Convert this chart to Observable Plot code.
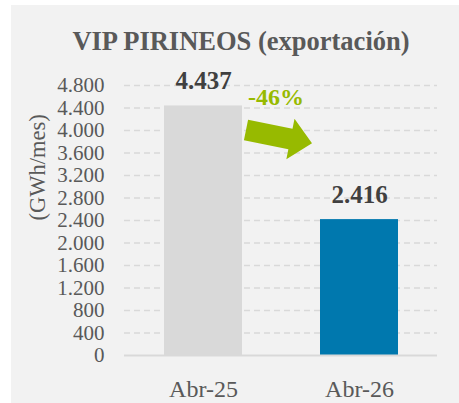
<!DOCTYPE html>
<html>
<head>
<meta charset="utf-8">
<script src="https://cdn.jsdelivr.net/npm/d3@7"></script>
<script src="https://cdn.jsdelivr.net/npm/@observablehq/plot@0.6"></script>
<style>
  html, body { margin: 0; padding: 0; background: #ffffff; }
  #frame { position: absolute; left: 11px; top: 5px; width: 448px; height: 398px; background: #f2f2f2; font-family: "Liberation Serif", serif; overflow: hidden; }
  #title { position: absolute; left: 12px; width: 436px; top: 21px; line-height: 30px; text-align: center; font-weight: bold; font-size: 26.5px; color: #595959; white-space: nowrap; }
  #chart { position: absolute; left: 0; top: 58px; }
</style>
</head>
<body>
<div id="frame">
  <div id="title"></div>
  <div id="chart"></div>
</div>
<script>
const title = "VIP PIRINEOS (exportación)";
const yLabel = "(GWh/mes)";
const categories = ["Abr-25", "Abr-26"];
const values = [4437, 2416];
const barColors = ["#d9d9d9", "#0078ae"];
const yTicks = [0, 400, 800, 1200, 1600, 2000, 2400, 2800, 3200, 3600, 4000, 4400, 4800];
const arrowStartValue = 4000;
const arrowEndValue = 3764;

const locale = d3.formatLocale({decimal: ",", thousands: ".", grouping: [3], currency: ["", " €"]});
const fmt = locale.format(",d");

const data = categories.map((c, i) => ({period: c, value: values[i], color: barColors[i]}));
const change = Math.round((values[1] / values[0] - 1) * 100);
const changeLabel = (change > 0 ? "+" : "") + change + "%";
const paddingInner = 0.5;

document.getElementById("title").textContent = title;

const green = "#97ba00";

function changeArrow(index, scales) {
  const x = scales.x, y = scales.y;
  const x0 = +x(categories[0]), x1 = +x(categories[1]);
  const step = x1 - x0;
  let bw = typeof x.bandwidth === "function" ? x.bandwidth() : x.bandwidth;
  if (!(bw > 0)) bw = step * (1 - paddingInner);
  const gapLeft = x0 + bw, gapRight = x1;
  const g = d3.create("svg:g");
  g.append("text")
    .attr("x", (gapLeft + gapRight) / 2 - 5)
    .attr("y", y(values[0]))
    .attr("text-anchor", "middle")
    .attr("font-family", "Liberation Serif")
    .attr("font-weight", "bold")
    .attr("font-size", 24)
    .attr("fill", green)
    .text(changeLabel);
  const S = [gapLeft + 4, y(arrowStartValue)];
  const T = [gapRight - 8, y(arrowEndValue)];
  const dx = T[0] - S[0], dy = T[1] - S[1];
  const len = Math.hypot(dx, dy);
  const u = [dx / len, dy / len];
  const n = [-u[1], u[0]];
  const sw = 10.5, hw = 20.7, hl = 22;
  const B = [T[0] - u[0] * hl, T[1] - u[1] * hl];
  const p = (P, k) => [P[0] + n[0] * k, P[1] + n[1] * k];
  const pts = [p(S, -sw), p(B, -sw), p(B, -hw), T, p(B, hw), p(B, sw), p(S, sw)];
  g.append("polygon")
    .attr("points", pts.map(q => q.join(",")).join(" "))
    .attr("fill", green);
  return g.node();
}

const chart = Plot.plot({
  width: 448,
  height: 340,
  marginTop: 22,
  marginBottom: 48,
  marginLeft: 113,
  marginRight: 22,
  style: {background: "transparent", fontFamily: "Liberation Serif", color: "#595959"},
  x: {domain: categories, paddingInner: paddingInner, paddingOuter: 0.25, label: null},
  y: {domain: [0, 4800], label: null},
  marks: [
    Plot.gridY(yTicks.filter(t => t > 0), {stroke: "#d9d9d9", strokeOpacity: 1, strokeWidth: 1.5, strokeDasharray: "6,4"}),
    Plot.barY(data, {x: "period", y: "value", fill: "color"}),
    Plot.ruleY([0], {stroke: "#d9d9d9", strokeWidth: 2}),
    Plot.axisY({ticks: yTicks, tickSize: 0, tickPadding: 20, tickFormat: fmt, fontSize: 21, label: null}),
    Plot.axisX({tickSize: 0, tickPadding: 24, fontSize: 24, label: null}),
    Plot.text([yLabel], {frameAnchor: "left", dx: -87, rotate: -90, fontSize: 22.5, fill: "#595959"}),
    Plot.text(data, {x: "period", y: "value", text: d => fmt(d.value), lineAnchor: "bottom", dy: -17, fontWeight: "bold", fontSize: 25, fill: "#404040"}),
    changeArrow
  ]
});
document.getElementById("chart").appendChild(chart);
</script>
</body>
</html>
